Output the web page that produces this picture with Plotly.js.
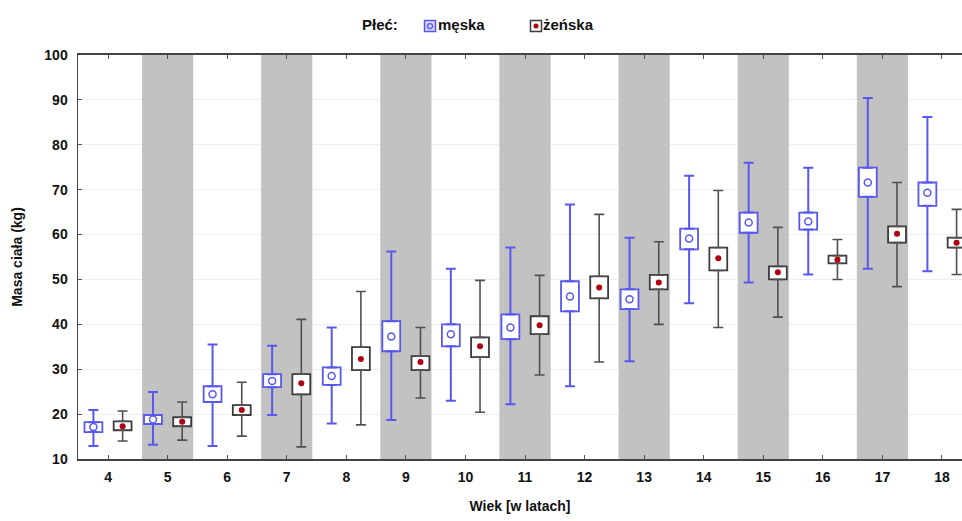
<!DOCTYPE html>
<html>
<head>
<meta charset="utf-8">
<script src="https://cdn.plot.ly/plotly-3.0.1.min.js"></script>
<style>html,body{margin:0;padding:0;background:#fff;}#chart{width:962px;height:521px;}</style>
</head>
<body>
<div id="chart"></div>
<script>
// ---- data ----
const categories = [4, 5, 6, 7, 8, 9, 10, 11, 12, 13, 14, 15, 16, 17, 18];
const tickLabels = ['4','5','6','7','8','9','10','11','12','13','14','15','16','17','18'];

const maleMean    = [17.1, 18.8, 24.4, 27.4, 28.5, 37.3, 37.8, 39.3, 46.2, 45.6, 59.1, 62.7, 62.9, 71.6, 69.3];
const maleBoxLow  = [16.0, 17.8, 22.7, 26.0, 26.5, 34.0, 35.1, 36.7, 42.9, 43.4, 56.7, 60.4, 61.1, 68.4, 66.4];
const maleBoxHigh = [18.2, 19.8, 26.2, 28.9, 30.4, 40.7, 40.0, 42.2, 49.6, 47.8, 61.3, 64.9, 64.9, 74.9, 71.6];
const maleMin     = [12.9, 13.2, 12.9, 19.8, 17.9, 18.7, 23.0, 22.2, 26.2, 31.8, 44.7, 49.3, 51.1, 52.4, 51.8];
const maleMax     = [20.9, 24.9, 35.5, 35.2, 39.3, 56.2, 52.4, 57.1, 66.7, 59.3, 73.1, 76.0, 74.9, 90.4, 86.2];

const femaleMean    = [17.3, 18.3, 20.9, 26.9, 32.3, 31.6, 35.1, 39.8, 48.2, 49.3, 54.7, 51.6, 54.4, 60.2, 58.2];
const femaleBoxLow  = [16.4, 17.3, 19.8, 24.4, 29.8, 29.8, 32.7, 37.8, 45.8, 47.8, 52.0, 50.0, 53.6, 58.2, 57.1];
const femaleBoxHigh = [18.4, 19.3, 22.0, 28.9, 34.9, 32.9, 37.1, 41.8, 50.7, 51.0, 57.1, 52.9, 55.3, 61.8, 59.3];
const femaleMin     = [14.0, 14.2, 15.1, 12.7, 17.6, 23.6, 20.4, 28.7, 31.6, 40.0, 39.3, 41.6, 50.0, 48.4, 51.1];
const femaleMax     = [20.7, 22.7, 27.1, 41.1, 47.3, 39.3, 49.8, 50.9, 64.5, 58.4, 69.8, 61.6, 58.9, 71.6, 65.6];

const seriesNames = ['męska', 'żeńska'];
const legendTitle = 'Płeć:';

// ---- styling ----
const FONT = '"Liberation Sans", Arial, sans-serif';
const MALE = '#5858ee';
const FEMALE_LINE = '#3c3c3c';
const FEMALE_WHISK = '#505050';
const RED = '#b00010';
const OFF = 0.245;      // half distance between the two series within a category
const BOXW = 0.30;      // box width in category units

function seriesTraces(lo, hi, mn, mx, dx, lineColor, whiskColor, whiskW) {
  const xs = categories.map(c => c + dx);
  const zeros = categories.map(() => 0);
  return [
    { type: 'bar', x: categories, base: lo, y: hi.map((h, i) => h - lo[i]),
      width: BOXW, offset: dx - BOXW / 2,
      marker: { color: '#ffffff', line: { color: lineColor, width: 1.8 } },
      showlegend: false, hoverinfo: 'skip' },
    { type: 'scatter', mode: 'markers', x: xs, y: hi, marker: { size: 1, opacity: 0 },
      error_y: { type: 'data', symmetric: false, array: mx.map((v, i) => v - hi[i]), arrayminus: zeros,
                 width: 5, thickness: whiskW, color: whiskColor },
      showlegend: false, hoverinfo: 'skip' },
    { type: 'scatter', mode: 'markers', x: xs, y: lo, marker: { size: 1, opacity: 0 },
      error_y: { type: 'data', symmetric: false, array: zeros, arrayminus: lo.map((v, i) => v - mn[i]),
                 width: 5, thickness: whiskW, color: whiskColor },
      showlegend: false, hoverinfo: 'skip' }
  ];
}

const traces = [];
traces.push(...seriesTraces(maleBoxLow, maleBoxHigh, maleMin, maleMax, -OFF, MALE, MALE, 2));
traces.push(...seriesTraces(femaleBoxLow, femaleBoxHigh, femaleMin, femaleMax, OFF, FEMALE_LINE, FEMALE_WHISK, 1.6));

// mean markers
traces.push({ type: 'scatter', mode: 'markers', x: categories.map(c => c - OFF), y: maleMean,
  marker: { symbol: 'circle-open', size: 7, color: MALE, line: { width: 1.5, color: MALE } },
  showlegend: false, hoverinfo: 'skip' });
traces.push({ type: 'scatter', mode: 'markers', x: categories.map(c => c + OFF), y: femaleMean,
  marker: { symbol: 'circle', size: 6, color: RED },
  showlegend: false, hoverinfo: 'skip' });

// ---- custom legend (on a hidden helper axis, pixel-like x units) ----
const legX = { title: 362, maleIcon: 430, maleText: 438, femaleIcon: 536, femaleText: 543 };
const legendFont = { family: FONT, size: 15, color: '#111', weight: 'bold' };
traces.push({ type: 'scatter', mode: 'text', xaxis: 'x2', yaxis: 'y2',
  x: [legX.title, legX.maleText, legX.femaleText], y: [0.5, 0.5, 0.5],
  text: [legendTitle, seriesNames[0], seriesNames[1]], textposition: 'middle right',
  textfont: legendFont, showlegend: false, hoverinfo: 'skip' });
traces.push({ type: 'scatter', mode: 'markers', xaxis: 'x2', yaxis: 'y2',
  x: [legX.maleIcon, legX.femaleIcon], y: [0.5, 0.5],
  marker: { symbol: 'square', size: 11, color: ['#d4d4ff', '#ffffff'],
            line: { width: 1.5, color: [MALE, FEMALE_LINE] } },
  showlegend: false, hoverinfo: 'skip' });
traces.push({ type: 'scatter', mode: 'markers', xaxis: 'x2', yaxis: 'y2',
  x: [legX.maleIcon], y: [0.5],
  marker: { symbol: 'circle-open', size: 5, color: MALE, line: { width: 1.3, color: MALE } },
  showlegend: false, hoverinfo: 'skip' });
traces.push({ type: 'scatter', mode: 'markers', xaxis: 'x2', yaxis: 'y2',
  x: [legX.femaleIcon], y: [0.5],
  marker: { symbol: 'circle', size: 5, color: RED },
  showlegend: false, hoverinfo: 'skip' });

// ---- gray bands behind every other category ----
const shapes = categories.filter((c, i) => i % 2 === 1).map(c => ({
  type: 'rect', xref: 'x', yref: 'y', x0: c - 0.43, x1: c + 0.43, y0: 10, y1: 100,
  fillcolor: '#c2c2c2', line: { width: 0 }, layer: 'between'
}));

const axisFont = { family: FONT, size: 14, color: '#111', weight: 'bold' };
const tickFont = { family: FONT, size: 14, color: '#111', weight: 'bold' };
const layout = {
  width: 962, height: 521,
  margin: { l: 78, r: 0, t: 8, b: 62 },
  paper_bgcolor: '#ffffff', plot_bgcolor: '#ffffff',
  barmode: 'overlay', hovermode: false, showlegend: false,
  font: { family: FONT },
  xaxis: {
    domain: [0, 1], range: [3.496, 18.336], tickmode: 'array', tickvals: categories, ticktext: tickLabels,
    ticks: 'inside', ticklen: 4, tickcolor: '#555', showline: true, linecolor: '#444', linewidth: 1.5,
    mirror: 'ticks', showgrid: false, zeroline: false, tickfont: tickFont, ticklabelstandoff: 5,
    title: { text: 'Wiek [w latach]', font: axisFont, standoff: 17 }
  },
  yaxis: {
    domain: [0, 0.8958], range: [10, 100], dtick: 10, tick0: 10,
    ticks: 'inside', ticklen: 4, tickcolor: '#555', showline: true, linecolor: '#444', linewidth: 1.5,
    showgrid: true, gridcolor: '#efefef', gridwidth: 1, zeroline: false, tickfont: tickFont, ticklabelstandoff: 6,
    title: { text: 'Masa ciała (kg)', font: axisFont, standoff: 18 }
  },
  xaxis2: { domain: [0, 1], range: [78, 962], anchor: 'y2', visible: false, fixedrange: true },
  yaxis2: { domain: [0.92, 1], range: [0, 1], anchor: 'x2', visible: false, fixedrange: true },
  shapes: shapes
};

Plotly.newPlot('chart', traces, layout, { staticPlot: true, displayModeBar: false });
</script>
</body>
</html>
